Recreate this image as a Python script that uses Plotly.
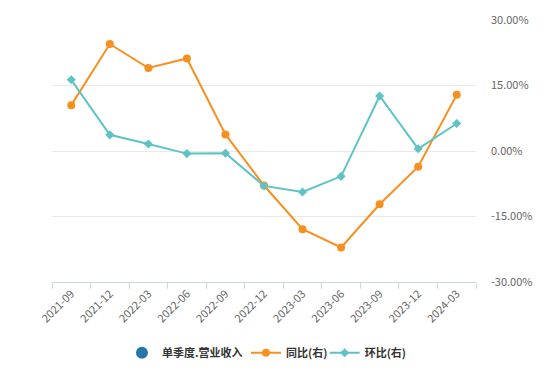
import plotly.graph_objects as go

categories = ["2021-09", "2021-12", "2022-03", "2022-06", "2022-09", "2022-12",
              "2023-03", "2023-06", "2023-09", "2023-12", "2024-03"]
revenue = [None] * len(categories)
yoy = [10.5, 24.5, 19.0, 21.2, 3.8, -7.9, -17.9, -22.1, -12.2, -3.6, 12.9]
qoq = [16.3, 3.7, 1.6, -0.6, -0.5, -8.0, -9.4, -5.8, 12.6, 0.5, 6.3]
y_ticks = [-30, -15, 0, 15, 30]
y_tick_labels = ["-30.00%", "-15.00%", "0.00%", "15.00%", "30.00%"]

fig = go.Figure()
fig.add_trace(go.Scatter(
    x=categories, y=revenue, name="单季度.营业收入", mode="markers",
    marker=dict(color="#2676a8", size=12, symbol="circle"),
    yaxis="y", showlegend=True, legend="legend"))
fig.add_trace(go.Scatter(
    x=categories, y=yoy, name="同比(右)", mode="lines+markers",
    line=dict(color="#f8901f", width=2),
    marker=dict(color="#f8901f", size=8, symbol="circle"),
    yaxis="y", legend="legend2"))
fig.add_trace(go.Scatter(
    x=categories, y=qoq, name="环比(右)", mode="lines+markers",
    line=dict(color="#5ec3c4", width=2),
    marker=dict(color="#5ec3c4", size=7, symbol="diamond"),
    yaxis="y", legend="legend3"))

legend_common = dict(orientation="h", xanchor="left", y=-0.27, yanchor="middle",
                     font=dict(size=11, color="#333333", weight=600), itemwidth=30,
                     bgcolor="rgba(0,0,0,0)")

fig.update_layout(
    width=546, height=383,
    margin=dict(l=44, r=78, t=12, b=109, autoexpand=False),
    paper_bgcolor="white", plot_bgcolor="white",
    font=dict(family="Noto Sans CJK SC, Noto Sans, sans-serif", color="#666666", size=11),
    showlegend=True,
    legend=dict(x=0.165, **legend_common),
    legend2=dict(x=0.4575, **legend_common),
    legend3=dict(x=0.643, **legend_common),
    xaxis=dict(type="category", categoryorder="array", categoryarray=categories,
               showline=True, linecolor="#ccd6eb", linewidth=1,
               ticks="outside", tickson="boundaries", ticklen=6, tickcolor="#ccd6eb",
               showgrid=False, tickangle=-45, automargin=False,
               tickfont=dict(size=11, color="#666666"),
               range=[-0.5, len(categories) - 0.5]),
    yaxis=dict(side="right", range=[-30, 30], tickvals=y_ticks, ticktext=y_tick_labels,
               showgrid=True, gridcolor="#e9e9e9", gridwidth=1,
               zeroline=False, showline=False, ticks="", automargin=False,
               ticklabelstandoff=14,
               tickfont=dict(size=11, color="#666666")),
)

fig.write_html("out.html")
